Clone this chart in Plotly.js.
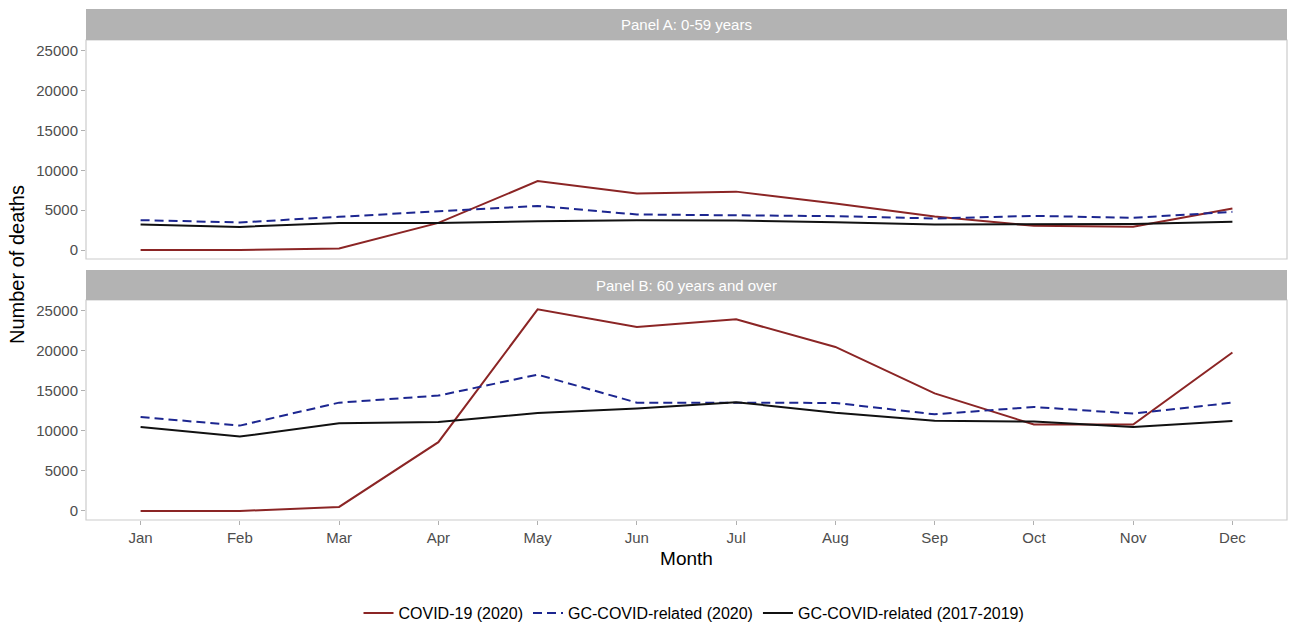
<!DOCTYPE html>
<html>
<head>
<meta charset="utf-8">
<script src="https://cdn.plot.ly/plotly-3.0.1.min.js"></script>
<style>html,body{margin:0;padding:0;background:#fff;overflow:hidden;}#chart{width:1292px;height:623px;}</style>
</head>
<body>
<div id="chart"></div>
<script>
const months = ["Jan","Feb","Mar","Apr","May","Jun","Jul","Aug","Sep","Oct","Nov","Dec"];
const seriesNames = ["COVID-19 (2020)", "GC-COVID-related (2020)", "GC-COVID-related (2017-2019)"];
const panelTitles = ["Panel A: 0-59 years", "Panel B: 60 years and over"];

// Panel A: 0-59 years
const covidA   = [0, 0, 200, 3400, 8650, 7100, 7330, 5830, 4200, 3040, 2920, 5200];
const gc2020A  = [3750, 3460, 4170, 4900, 5540, 4460, 4330, 4250, 3960, 4290, 4040, 4790];
const gcBaseA  = [3200, 2900, 3400, 3400, 3620, 3750, 3700, 3500, 3200, 3200, 3250, 3540];

// Panel B: 60 years and over
const covidB   = [0, 0, 500, 8600, 25200, 23000, 23950, 20500, 14700, 10800, 10800, 19800];
const gc2020B  = [11750, 10670, 13540, 14420, 17040, 13540, 13540, 13500, 12080, 13000, 12170, 13540];
const gcBaseB  = [10500, 9300, 10950, 11130, 12250, 12800, 13600, 12290, 11290, 11170, 10500, 11250];

const yTicks = [0, 5000, 10000, 15000, 20000, 25000];

const colors = ["#8b2525", "#1c2690", "#111111"];
const dashes = ["solid", "9px,5px", "solid"];

function mk(y, i, xa, ya, show) {
  return {
    x: months, y: y, type: "scatter", mode: "lines",
    name: seriesNames[i], legendgroup: "g" + i, showlegend: show,
    line: {color: colors[i], width: 2, dash: dashes[i]},
    xaxis: xa, yaxis: ya
  };
}

const data = [
  mk(covidA, 0, "x", "y", false), mk(gc2020A, 1, "x", "y", false), mk(gcBaseA, 2, "x", "y", false),
  mk(covidB, 0, "x2", "y2", true), mk(gc2020B, 1, "x2", "y2", true), mk(gcBaseB, 2, "x2", "y2", true)
];

const H = 623, W = 1292;
const py = p => 1 - p / H;
const xDom = [86 / W, 1287 / W];
const yDomA = [py(259), py(40)];
const yDomB = [py(520), py(300)];
const yRange = [-1130, 26370];
const xRange = [-0.55, 11.55];

const FONT = "Liberation Sans, Arial, sans-serif";
const axisCommon = {
  showgrid: false, zeroline: false, showline: false,
  tickfont: {family: FONT, size: 15, color: "#4d4d4d"},
  ticks: "outside", ticklen: 4, tickcolor: "#b0b0b0", tickwidth: 1
};

const layout = {
  width: W, height: H,
  margin: {l: 0, r: 0, t: 0, b: 0, autoexpand: false},
  paper_bgcolor: "#ffffff", plot_bgcolor: "#ffffff",
  font: {family: FONT, color: "#000"},
  xaxis: Object.assign({}, axisCommon, {domain: xDom, anchor: "y", range: xRange, showticklabels: false, ticks: "", type: "category", categoryarray: months}),
  yaxis: Object.assign({}, axisCommon, {domain: yDomA, anchor: "x", range: yRange, tickvals: yTicks, ticktext: yTicks.map(String)}),
  xaxis2: Object.assign({}, axisCommon, {domain: xDom, anchor: "y2", range: xRange, type: "category", categoryarray: months,
    title: {text: "Month", font: {family: FONT, size: 19, color: "#000"}, standoff: 6}}),
  yaxis2: Object.assign({}, axisCommon, {domain: yDomB, anchor: "x2", range: yRange, tickvals: yTicks, ticktext: yTicks.map(String)}),
  shapes: [
    {type: "rect", xref: "paper", yref: "paper", x0: xDom[0], x1: xDom[1], y0: yDomA[0], y1: yDomA[1], line: {color: "#cccccc", width: 1.2}, fillcolor: "rgba(0,0,0,0)"},
    {type: "rect", xref: "paper", yref: "paper", x0: xDom[0], x1: xDom[1], y0: yDomB[0], y1: yDomB[1], line: {color: "#cccccc", width: 1.2}, fillcolor: "rgba(0,0,0,0)"},
    {type: "rect", xref: "paper", yref: "paper", x0: xDom[0], x1: xDom[1], y0: py(40), y1: py(9), line: {width: 0}, fillcolor: "#b3b3b3"},
    {type: "rect", xref: "paper", yref: "paper", x0: xDom[0], x1: xDom[1], y0: py(300), y1: py(270), line: {width: 0}, fillcolor: "#b3b3b3"}
  ],
  annotations: [
    {xref: "paper", yref: "paper", x: (xDom[0] + xDom[1]) / 2, y: py(24.5), text: panelTitles[0], showarrow: false, font: {family: FONT, size: 15, color: "#ffffff"}, xanchor: "center", yanchor: "middle"},
    {xref: "paper", yref: "paper", x: (xDom[0] + xDom[1]) / 2, y: py(285), text: panelTitles[1], showarrow: false, font: {family: FONT, size: 15, color: "#ffffff"}, xanchor: "center", yanchor: "middle"},
    {xref: "paper", yref: "paper", x: 17 / W, y: py(265), text: "Number of deaths", showarrow: false, textangle: -90, font: {family: FONT, size: 20, color: "#000"}, xanchor: "center", yanchor: "middle"}
  ],
  legend: {orientation: "h", x: 694 / W, xanchor: "center", y: py(613), yanchor: "middle",
    font: {family: FONT, size: 16, color: "#000"}, bgcolor: "rgba(0,0,0,0)", itemwidth: 30, tracegroupgap: 0},
  showlegend: true
};

Plotly.newPlot("chart", data, layout, {displayModeBar: false, staticPlot: true});
</script>
</body>
</html>
